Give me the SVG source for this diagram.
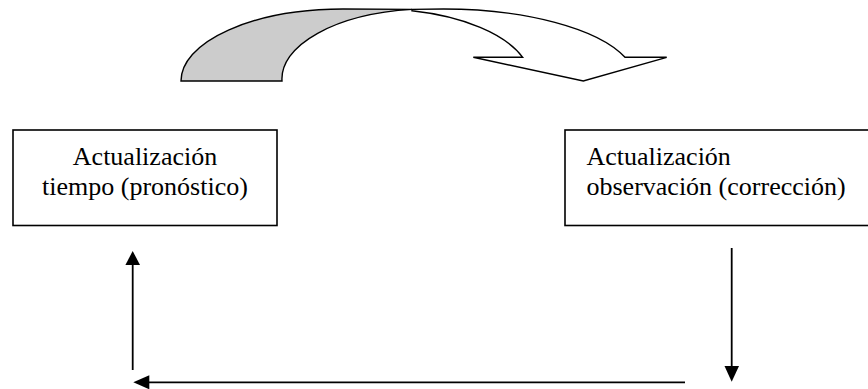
<svg xmlns="http://www.w3.org/2000/svg" width="868" height="389" viewBox="0 0 868 389">
<style>
.box{fill:#ffffff;stroke:#000000;stroke-width:1.6}
.lbl{font-family:"Liberation Serif","Times New Roman",serif;font-size:26px;fill:#000000}
.conn{fill:none;stroke:#000000;stroke-width:1.8}
.head{fill:#000000;stroke:none}
.curve{stroke:#000000;stroke-width:1.4;stroke-linejoin:miter}
</style>
<rect width="868" height="389" fill="#ffffff"/>
<g id="curved-arrow">
<path class="curve" fill="#cccccc" d="M181,81 A162,72 0 0 1 343,9 L412,9.4 A148,70 0 0 0 282,81 Z"/>
<path class="curve" fill="#ffffff" d="M412,9.4 L443.6,9 A192.4,72 0 0 1 625,57.3 L666.7,57.3 L583.3,81 L473.3,57.3 L522.7,57.3 A154,72 0 0 0 412,10.8 Z"/>
</g>
<g id="node-tiempo">
<rect class="box" x="13" y="130" width="264" height="95.5"/>
<text class="lbl" x="145" y="165" text-anchor="middle">Actualización</text>
<text class="lbl" x="145" y="195" text-anchor="middle">tiempo (pronóstico)</text>
</g>
<g id="node-observacion">
<rect class="box" x="565" y="130" width="310" height="95.5"/>
<text class="lbl" x="586.5" y="165">Actualización</text>
<text class="lbl" x="586.5" y="195">observación (corrección)</text>
</g>
<g id="connectors">
<line class="conn" x1="731.7" y1="248" x2="731.7" y2="367"/>
<polygon class="head" points="724.5,366 739,366 731.7,381.7"/>
<line class="conn" x1="685" y1="382.3" x2="148" y2="382.3"/>
<polygon class="head" points="149.3,375.3 149.3,389.3 133.3,382.3"/>
<line class="conn" x1="132.7" y1="370" x2="132.7" y2="264"/>
<polygon class="head" points="125.4,265 140,265 132.7,251"/>
</g>
</svg>
